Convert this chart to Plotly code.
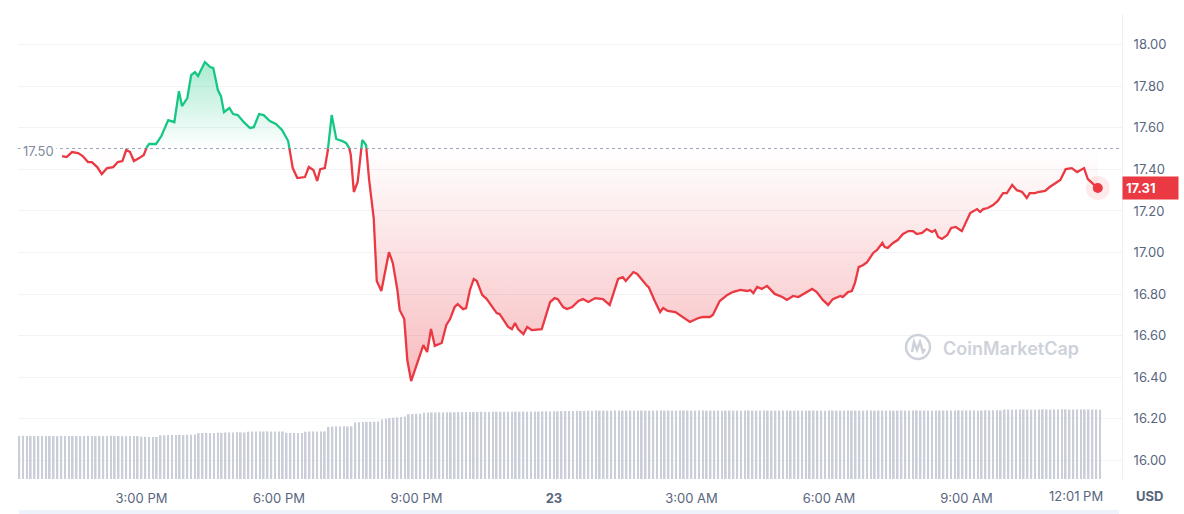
import numpy as np
import plotly.graph_objects as go

# ---------------- data ----------------
# time in minutes after 12:00 PM (day 22) and price in USD
minutes = [
    76, 82, 89, 97, 103, 110, 115, 122, 128, 135,
    143, 149, 155, 160, 165, 170, 177, 183, 187, 190,
    199, 206, 215, 223, 229, 233, 240, 245, 250, 254,
    263, 270, 274, 280, 284, 288, 295, 300, 306, 314,
    322, 327, 334, 340, 348, 356, 364, 372, 378, 384,
    390, 394, 399, 405, 410, 414, 420, 424, 429, 435,
    443, 448, 452, 454, 458, 463, 469, 474, 478, 484,
    488, 494, 504, 509, 515, 518, 524, 528, 533, 539,
    549, 554, 559, 564, 573, 579, 584, 590, 594, 601,
    605, 610, 615, 619, 626, 632, 645, 649, 660, 665,
    669, 673, 680, 685, 691, 704, 715, 721, 725, 732,
    737, 744, 752, 758, 765, 774, 784, 793, 804, 810,
    814, 824, 829, 842, 844, 852, 859, 863, 869, 879,
    889, 898, 909, 915, 924, 928, 937, 947, 954, 964,
    973, 977, 981, 986, 992, 999, 1009, 1019, 1025, 1033,
    1040, 1049, 1058, 1064, 1072, 1079, 1085, 1095, 1098, 1105,
    1110, 1114, 1119, 1125, 1130, 1138, 1143, 1150, 1153, 1157,
    1164, 1170, 1177, 1184, 1190, 1195, 1202, 1208, 1215, 1219,
    1223, 1228, 1235, 1240, 1246, 1254, 1265, 1274, 1278, 1282,
    1288, 1295, 1301, 1308, 1313, 1320, 1326, 1333, 1339, 1343,
    1350, 1354, 1363, 1369, 1376, 1383, 1390, 1398, 1405, 1414,
    1419, 1426, 1432,
]
prices = [
    17.464, 17.459, 17.483, 17.478, 17.464, 17.435, 17.435, 17.411, 17.377, 17.406,
    17.411, 17.435, 17.440, 17.493, 17.483, 17.440, 17.454, 17.469, 17.507, 17.522,
    17.522, 17.560, 17.637, 17.627, 17.776, 17.704, 17.743, 17.853, 17.868, 17.849,
    17.916, 17.892, 17.887, 17.781, 17.752, 17.675, 17.695, 17.666, 17.661, 17.627,
    17.599, 17.603, 17.666, 17.661, 17.632, 17.618, 17.589, 17.536, 17.406, 17.358,
    17.363, 17.363, 17.411, 17.397, 17.344, 17.401, 17.406, 17.493, 17.661, 17.546,
    17.536, 17.526, 17.502, 17.469, 17.291, 17.339, 17.541, 17.517, 17.349, 17.166,
    16.863, 16.815, 17.002, 16.950, 16.820, 16.724, 16.680, 16.483, 16.382, 16.450,
    16.555, 16.522, 16.632, 16.551, 16.565, 16.651, 16.680, 16.738, 16.752, 16.728,
    16.733, 16.820, 16.873, 16.863, 16.796, 16.776, 16.709, 16.704, 16.642, 16.632,
    16.661, 16.632, 16.608, 16.642, 16.627, 16.632, 16.762, 16.781, 16.776, 16.738,
    16.728, 16.738, 16.767, 16.776, 16.762, 16.781, 16.776, 16.748, 16.873, 16.882,
    16.863, 16.906, 16.897, 16.839, 16.834, 16.767, 16.714, 16.733, 16.719, 16.714,
    16.690, 16.666, 16.685, 16.690, 16.690, 16.700, 16.767, 16.796, 16.810, 16.820,
    16.815, 16.820, 16.805, 16.834, 16.825, 16.839, 16.801, 16.786, 16.772, 16.791,
    16.786, 16.805, 16.825, 16.810, 16.772, 16.748, 16.776, 16.791, 16.786, 16.810,
    16.815, 16.853, 16.930, 16.940, 16.954, 16.998, 17.012, 17.046, 17.026, 17.022,
    17.046, 17.060, 17.089, 17.103, 17.103, 17.089, 17.094, 17.113, 17.099, 17.108,
    17.075, 17.065, 17.084, 17.118, 17.123, 17.103, 17.190, 17.209, 17.195, 17.209,
    17.214, 17.228, 17.248, 17.286, 17.286, 17.325, 17.300, 17.291, 17.262, 17.286,
    17.286, 17.291, 17.296, 17.315, 17.334, 17.349, 17.401, 17.406, 17.387, 17.406,
    17.353, 17.329, 17.310,
]
assert len(minutes) == len(prices)

OPEN_PRICE = 17.50  # reference (opening) price, dotted line

# volume bars: one per 5 minutes (relative units), one row per hour
volume = [
    43.0, 43.2, 43.1, 42.9, 43.0, 43.1, 43.2, 43.0,
    43.1, 43.0, 42.9, 43.2, 43.1, 43.0, 43.0, 43.1, 42.9, 43.0, 43.2, 43.1,
    43.0, 43.1, 42.9, 43.0, 43.2, 43.1, 43.0, 42.8, 42.9, 43.0, 43.1, 42.8,
    42.3, 42.2, 42.0, 42.1, 42.0, 43.6, 43.8, 44.0, 43.9, 44.1, 44.2, 44.0,
    44.2, 44.3, 44.5, 45.8, 46.0, 46.1, 45.9, 46.0, 46.2, 46.1, 46.5, 46.6,
    46.5, 46.7, 46.6, 46.5, 47.3, 47.5, 47.6, 47.4, 47.5, 47.6, 47.5, 47.4,
    47.6, 47.5, 46.2, 46.0, 46.1, 45.9, 46.0, 47.3, 47.5, 47.6, 47.4, 47.5,
    47.6, 52.2, 52.5, 52.6, 52.4, 52.7, 52.6, 52.8, 56.5, 56.8, 57.0, 57.2,
    57.1, 57.3, 57.5, 59.5, 60.2, 60.8, 61.2, 61.6, 62.0, 62.4, 64.8, 65.0,
    65.2, 65.3, 66.3, 66.5, 66.6, 66.5, 66.7, 66.6, 66.8, 66.7, 66.8, 66.9,
    66.8, 67.0, 66.9, 67.1, 67.0, 67.2, 67.1, 67.0, 67.2, 67.3, 67.2, 67.1,
    67.3, 67.2, 67.4, 67.3, 67.5, 67.4, 67.6, 67.5, 67.4, 67.6, 67.7, 67.6,
    67.8, 67.7, 67.9, 68.0, 67.9, 68.1, 68.2, 68.0, 68.1, 68.3, 68.2, 68.4,
    68.3, 68.4, 68.2, 68.3, 68.5, 68.4, 68.3, 68.4, 68.5, 68.3, 68.4, 68.5,
    68.4, 68.3, 68.5, 68.4, 68.4, 68.3, 68.5, 68.4, 68.3, 68.4, 68.5, 68.4,
    68.3, 68.4, 68.5, 68.4, 68.3, 68.4, 68.4, 68.5, 68.3, 68.4, 68.5, 68.4,
    68.4, 68.3, 68.4, 68.5, 68.4, 68.3, 68.4, 68.5, 68.4, 68.3, 68.4, 68.4,
    68.5, 68.4, 68.3, 68.4, 68.5, 68.4, 68.3, 68.4, 68.5, 68.4, 68.4, 68.3,
    68.4, 68.5, 68.4, 68.3, 68.4, 68.5, 68.4, 68.4, 68.3, 68.4, 68.5, 68.4,
    68.3, 68.4, 68.5, 68.4, 68.4, 68.3, 68.4, 68.5, 68.4, 68.3, 68.4, 68.5,
    68.4, 68.5, 68.4, 68.3, 68.4, 68.5, 68.6, 68.5, 68.4, 68.5, 68.6, 68.5,
    68.6, 68.5, 68.7, 68.6, 68.5, 68.7, 68.6, 68.8, 68.7, 68.6, 69.4, 69.5,
    69.3, 69.5, 69.4, 69.6, 69.5, 69.3, 69.4, 69.6, 69.7, 69.5, 69.4, 69.6,
    69.5, 69.7, 69.6, 69.4, 69.5, 69.6, 69.7, 69.5, 69.6, 69.4, 69.5, 69.3,
]
vol_minutes = list(range(20, 1436, 5))
assert len(vol_minutes) == len(volume)

x_tick_minutes = [180, 360, 540, 720, 900, 1080, 1260]
x_tick_labels = ["3:00 PM", "6:00 PM", "9:00 PM", "<b>23</b>", "3:00 AM", "6:00 AM", "9:00 AM"]
end_tick_minute = 1441
end_tick_label = "12:01 PM"
y_ticks = [16.0, 16.2, 16.4, 16.6, 16.8, 17.0, 17.2, 17.4, 17.6, 17.8, 18.0]

# ---------------- style ----------------
GREEN = "#16c784"
RED = "#ea3943"
LABEL = "#58667e"
FONT = "Inter, Roboto, sans-serif"

X_RANGE = [18.3, 1463.7]
Y_RANGE = [15.911, 18.147]
VOL_RANGE = [0, 465]
split = (OPEN_PRICE - Y_RANGE[0]) / (Y_RANGE[1] - Y_RANGE[0])

fig = go.Figure()

# volume
fig.add_trace(go.Bar(x=vol_minutes, y=volume, yaxis="y2", marker=dict(color="#c9ced8", line=dict(width=0)),
                     hoverinfo="skip"))
# dotted reference line
fig.add_trace(go.Scatter(x=X_RANGE, y=[OPEN_PRICE, OPEN_PRICE], yaxis="y", mode="lines",
                         line=dict(color="#9aa4b5", width=1, dash="dot"), hoverinfo="skip"))
# above the reference price (green, clipped to upper subplot)
fig.add_trace(go.Scatter(x=minutes, y=prices, yaxis="y3", mode="lines",
                         line=dict(color=GREEN, width=2.3),
                         fill="tozeroy",
                         fillgradient=dict(type="vertical", start=OPEN_PRICE, stop=max(prices),
                                           colorscale=[[0, "rgba(22,199,132,0)"], [1, "rgba(22,199,132,0.36)"]])))
# below the reference price (red, clipped to lower subplot)
fig.add_trace(go.Scatter(x=[minutes[0], minutes[-1]], y=[OPEN_PRICE, OPEN_PRICE], yaxis="y4", mode="lines",
                         line=dict(width=0, color="rgba(0,0,0,0)"), hoverinfo="skip"))
fig.add_trace(go.Scatter(x=minutes, y=prices, yaxis="y4", mode="lines",
                         line=dict(color=RED, width=2.3),
                         fill="tonexty",
                         fillgradient=dict(type="vertical", start=min(prices), stop=OPEN_PRICE,
                                           colorscale=[[0, "rgba(234,57,67,0.34)"], [1, "rgba(234,57,67,0)"]])))
# last price dot
fig.add_trace(go.Scatter(x=[minutes[-1]], y=[prices[-1]], yaxis="y4", mode="markers",
                         marker=dict(size=24, color="rgba(234,57,67,0.10)"), hoverinfo="skip"))
fig.add_trace(go.Scatter(x=[minutes[-1]], y=[prices[-1]], yaxis="y4", mode="markers",
                         marker=dict(size=10, color=RED), hoverinfo="skip"))

# ---------------- layout ----------------
W, H = 1184, 514
ML, MR, MT, MB = 18, 62, 14, 35
PW, PH = W - ML - MR, H - MT - MB

def px_x(px):
    return (px - ML) / PW

def px_y(py):
    return (H - MB - py) / PH

annotations = [
    dict(text=end_tick_label, x=end_tick_minute, xref="x", xanchor="right", y=0, yref="paper",
         yanchor="middle", yshift=-17, showarrow=False, font=dict(size=13, color=LABEL, family=FONT)),
    dict(text="<b>USD</b>", x=px_x(1150), xref="paper", xanchor="center", y=0, yref="paper",
         yanchor="middle", yshift=-17, showarrow=False, font=dict(size=13, color=LABEL, family=FONT)),
    dict(text=f"{OPEN_PRICE:.2f}", x=0, xref="paper", xanchor="left", xshift=2, y=OPEN_PRICE, yref="y",
         yanchor="middle", yshift=-2, showarrow=False, bgcolor="white", borderpad=2,
         font=dict(size=13, color="#808a9d", family=FONT)),
    dict(text=f"<b>{prices[-1]:.2f}</b>", x=1, xref="paper", xanchor="left", y=prices[-1], yref="y",
         yanchor="middle", showarrow=False, bgcolor=RED, borderpad=3, width=49, align="left",
         font=dict(size=13, color="white", family=FONT)),
    dict(text="CoinMarketCap", x=px_x(941), xref="paper", xanchor="left", y=px_y(348), yref="paper",
         yanchor="middle", showarrow=False, font=dict(size=18, color="#cdd2da", family=FONT, weight=600)),
]

cx, cy, r = 918, 347, 12
logo_pts = [(-6, 5), (-4, -5), (-1, 3), (2, -5), (5, 5), (7, 2)]
logo_path = "M " + " L ".join(f"{px_x(cx + dx):.5f},{px_y(cy + dy):.5f}" for dx, dy in logo_pts)
shapes = [
    dict(type="circle", xref="paper", yref="paper", x0=px_x(cx - r), x1=px_x(cx + r),
         y0=px_y(cy + r), y1=px_y(cy - r), line=dict(color="#cdd2da", width=2.5)),
    dict(type="path", xref="paper", yref="paper", path=logo_path, line=dict(color="#cdd2da", width=2.5)),
    dict(type="rect", xref="paper", yref="paper", x0=px_x(19), x1=px_x(1119), y0=px_y(514), y1=px_y(510),
         fillcolor="#eef2fb", line=dict(width=0), layer="below"),
]

fig.update_layout(
    width=W, height=H, autosize=False,
    margin=dict(l=ML, r=MR, t=MT, b=MB, autoexpand=False),
    paper_bgcolor="white", plot_bgcolor="rgba(0,0,0,0)",
    showlegend=False, bargap=0.55,
    font=dict(family=FONT, size=13, color=LABEL),
    xaxis=dict(range=X_RANGE, showgrid=False, zeroline=False, showline=False, automargin=False,
               tickmode="array", tickvals=x_tick_minutes, ticktext=x_tick_labels,
               ticks="", ticklabelstandoff=10, tickfont=dict(size=13, color=LABEL, family=FONT)),
    yaxis=dict(range=Y_RANGE, side="right", anchor="x", tickmode="array", tickvals=y_ticks, tickformat=".2f",
               showgrid=True, gridcolor="#f1f3f6", gridwidth=1, zeroline=False, automargin=False,
               showline=True, linecolor="#eef0f4", linewidth=1,
               ticks="", ticklabelstandoff=8, tickfont=dict(size=13, color=LABEL, family=FONT)),
    yaxis2=dict(range=VOL_RANGE, overlaying="y", anchor="x", visible=False, automargin=False),
    yaxis3=dict(domain=[split, 1], range=[OPEN_PRICE, Y_RANGE[1]], anchor="x", visible=False, automargin=False),
    yaxis4=dict(domain=[0, split], range=[Y_RANGE[0], OPEN_PRICE], anchor="x", visible=False, automargin=False),
    annotations=annotations,
    shapes=shapes,
)

fig.write_html("out.html", config={"displayModeBar": False},
               post_script="document.body.style.margin='0';document.body.style.overflow='hidden';")
